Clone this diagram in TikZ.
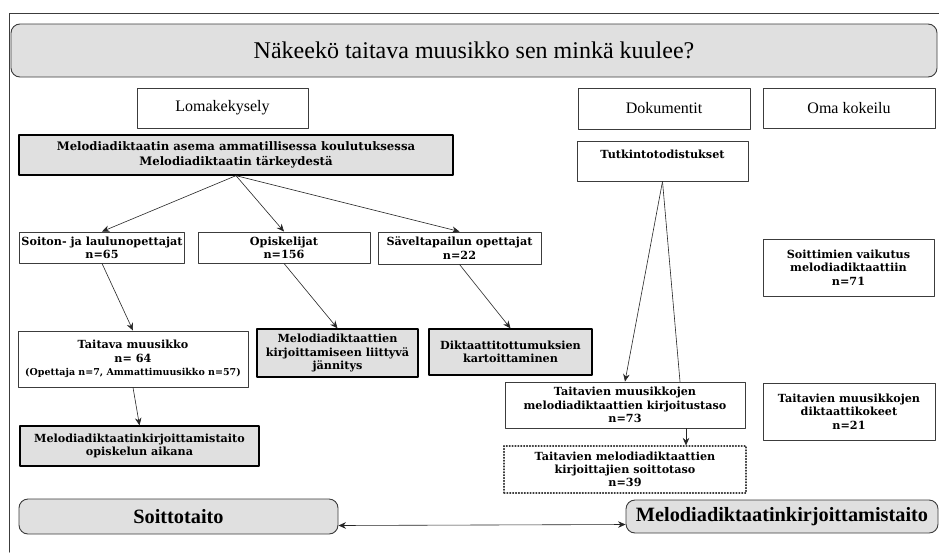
\documentclass[tikz,border=0pt]{standalone}
\usepackage{fontspec}
\setmainfont{Liberation Serif}
\newfontfamily\boxfont{DejaVu Serif}
\usepackage{tikz}
\usetikzlibrary{arrows.meta, positioning, calc}
\definecolor{boxgray}{RGB}{224, 224, 224}
\definecolor{edgegray}{RGB}{60, 60, 60}
\tikzset{every node/.style={font=\boxfont\bfseries\fontsize{11.2}{13.3}\selectfont}, every path/.style={line cap=round, line join=round}, >={Stealth[length=7.5pt, width=6.5pt, inset=2.5pt]}}
\tikzset{
    whitebox/.style={draw=edgegray, line width=0.9pt, fill=white, align=center, inner sep=2pt},
    graybox/.style={whitebox, draw=black, fill=boxgray, line width=1.3pt},
    pillbox/.style={whitebox, fill=boxgray, rounded corners=9pt},
    headfont/.style={font=\rmfamily\fontsize{16}{18}\selectfont},
    skillfont/.style={font=\rmfamily\bfseries\fontsize{20.3}{24}\selectfont},
    link/.style={->, line width=0.6pt, black!85}
}

\begin{document}
\begin{tikzpicture}[x=1pt, y=-1pt]
    \useasboundingbox [fill=white] (0,0) rectangle (939,552);
    \draw [edgegray, line width=1pt] (939,13) -- (9,13) -- (9,552);

    % title and method columns
    \node [pillbox, minimum width=926pt, minimum height=53pt, font=\rmfamily\fontsize{24}{27}\selectfont] (title) at (474,50.5) {Näkeekö taitava muusikko sen minkä kuulee?};
    \node [whitebox, headfont, minimum width=171pt, minimum height=40pt] (lomake) at (222.5,108) {Lomakekysely};
    \node [whitebox, headfont, minimum width=172pt, minimum height=41pt] (dokum) at (664,108.5) {Dokumentit};
    \node [whitebox, headfont, minimum width=172pt, minimum height=40pt] (oma) at (849,108) {Oma kokeilu};

    % questionnaire
    \node [graybox, minimum width=434pt, minimum height=40pt, font=\boxfont\bfseries\fontsize{11.7}{15}\selectfont] (asema) at (236,155) {Melodiadiktaatin asema ammatillisessa koulutuksessa\\Melodiadiktaatin tärkeydestä};
    \node [whitebox, minimum width=162pt, minimum height=31pt] (soiton) at (102,247.5) {Soiton- ja laulunopettajat\\n=65};
    \node [whitebox, minimum width=172pt, minimum height=31pt] (opisk) at (284,247.5) {Opiskelijat\\n=156};
    \node [whitebox, minimum width=163pt, minimum height=32pt] (savel) at (459.5,248) {Säveltapailun opettajat\\n=22};
    \node [whitebox, minimum width=230pt, minimum height=56pt] (taitava) at (133,359) {Taitava muusikko\\n= 64\\{\fontsize{9.5}{12}\selectfont (Opettaja n=7, Ammattimuusikko n=57)}};
    \node [graybox, minimum width=161pt, minimum height=48pt] (jannitys) at (337.5,353) {Melodiadiktaattien\\kirjoittamiseen liittyvä\\jännitys};
    \node [graybox, minimum width=163pt, minimum height=46pt] (diktaatti) at (510.5,352) {Diktaattitottumuksien\\kartoittaminen};
    \node [graybox, minimum width=239pt, minimum height=40pt] (opiskelun) at (139.5,446) {Melodiadiktaatinkirjoittamistaito\\opiskelun aikana};

    % documents
    \node [whitebox, minimum width=171pt, minimum height=40pt] (tutkinto) at (662.5,161) {Tutkintotodistukset\\\mbox{}};
    \node [whitebox, minimum width=240pt, minimum height=46pt] (kirjoitus) at (625,405) {Taitavien muusikkojen\\melodiadiktaattien kirjoitustaso\\n=73};
    \node [whitebox, dotted, line width=1.2pt, minimum width=242pt, minimum height=47pt] (soittotaso) at (625,469.5) {Taitavien melodiadiktaattien\\kirjoittajien soittotaso\\n=39};

    % own experiment
    \node [whitebox, minimum width=171pt, minimum height=57pt] (soittimet) at (848.5,267.5) {Soittimien vaikutus\\melodiadiktaattiin\\n=71};
    \node [whitebox, minimum width=172pt, minimum height=57pt] (kokeet) at (849,411.5) {Taitavien muusikkojen\\diktaattikokeet\\n=21};

    % skills
    \node [pillbox, skillfont, minimum width=319pt, minimum height=35pt] (soittotaito) at (178.5,516.5) {Soittotaito};
    \node [pillbox, skillfont, minimum width=312pt, minimum height=33pt] (mdtaito) at (782,516.5) {Melodiadiktaatinkirjoittamistaito};

    % connectors
    \draw [link] (asema.south) -- (soiton.north);
    \draw [link] (asema.south) -- (opisk.north);
    \draw [link] (asema.south) -- (savel.north);
    \draw [link] (soiton.south) -- (taitava.north);
    \draw [link] (opisk.south) -- (jannitys.north);
    \draw [link] (savel.south) -- (diktaatti.north);
    \draw [link] (taitava.south) -- (opiskelun.north);
    \draw [link] (tutkinto.south) -- (kirjoitus.north);
    \draw [line width=0.6pt, black!85] (tutkinto.south) -- ([xshift=55pt]kirjoitus.north);
    \draw [link] ([xshift=61pt]kirjoitus.south) -- ([xshift=61pt]soittotaso.north);
    \draw [link, <->] ([yshift=-9pt]soittotaito.east) -- ([yshift=-8pt]mdtaito.west);
\end{tikzpicture}
\end{document}
